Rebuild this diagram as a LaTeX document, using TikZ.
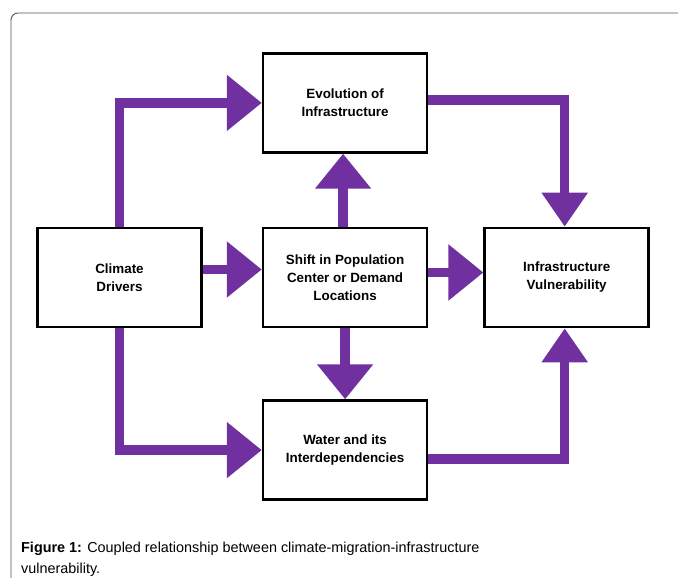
\documentclass[tikz,border=0pt]{standalone}
\usepackage{fontspec}
\setmainfont{Liberation Sans}
\usetikzlibrary{arrows.meta,positioning}
\definecolor{FlowPurple}{RGB}{112,48,160}
\definecolor{FrameGray}{RGB}{85,85,85}

\begin{document}
\begin{tikzpicture}[
    box/.style={draw, line width=2.6pt, minimum width=164pt, minimum height=99pt,
                align=center, font=\fontsize{13.4}{18}\selectfont\bfseries},
    flow/.style={draw=FlowPurple, line width=9.5pt, line join=miter},
    bigtip/.style={flow, -{Triangle[length=35pt,width=54pt]}},
    smalltip/.style={flow, -{Triangle[length=34pt,width=44pt]}}
]
    \useasboundingbox (0,0) rectangle (678pt,-578pt);
    \clip (0,0) rectangle (678pt,-578pt);
    \draw[FrameGray, line width=0.9pt, rounded corners=7pt] (11pt,-13pt) rectangle (720pt,-620pt);

    \node[box] (climate) at (119.5pt,-277.5pt) {Climate\\Drivers};
    \node[box, right=59pt of climate] (shift) {Shift in Population\\Center or Demand\\Locations};
    \node[box, right=55pt of shift] (infra) {Infrastructure\\Vulnerability};
    \node[box, above=73pt of shift] (evol) {Evolution of\\Infrastructure};
    \node[box, below=71pt of shift] (water) {Water and its\\Interdependencies};

    \draw[bigtip] (climate.north) |- (evol.west);
    \draw[bigtip] (climate.south) |- (water.west);
    \draw[bigtip] ([yshift=8pt]climate.east) -- ([yshift=8pt]shift.west);
    \draw[bigtip] ([yshift=5pt]shift.east) -- ([yshift=5pt]infra.west);
    \draw[bigtip] ([xshift=-2pt]shift.north) -- ([xshift=-2pt]evol.south);
    \draw[bigtip] (shift.south) -- (water.north);
    \draw[smalltip] ([yshift=3pt]evol.east) -| ([xshift=-2pt]infra.north);
    \draw[smalltip] ([yshift=-9pt]water.east) -| ([xshift=-2pt]infra.south);

    \node[anchor=base west, align=left, inner sep=0pt, font=\fontsize{14.4}{21}\selectfont]
        (cap) at (21pt,-573.5pt) {\textbf{Figure 1:} Coupled relationship between climate-migration-infrastructure\\vulnerability.};
\end{tikzpicture}
\end{document}
